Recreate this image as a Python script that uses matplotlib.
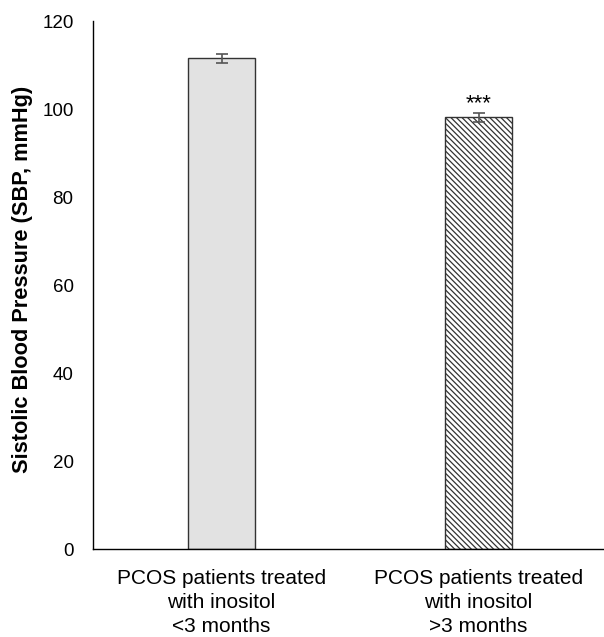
import matplotlib.pyplot as plt
import numpy as np

plt.rcParams["font.family"] = ["Liberation Sans", "DejaVu Sans"]
plt.rcParams["hatch.color"] = "#333333"
plt.rcParams["hatch.linewidth"] = 0.9

# === Data ===
groups = ["PCOS patients treated\nwith inositol\n<3 months",
          "PCOS patients treated\nwith inositol\n>3 months"]
sbp_mean = [111.5, 98.1]
sbp_err = [1.1, 1.0]
y_ticks = [0, 20, 40, 60, 80, 100, 120]
signif = ["", "***"]

# === Plot ===
fig = plt.figure(figsize=(6.04, 6.37), dpi=100)
ax = fig.add_axes([0.154, 0.138, 0.851, 0.829])

x = np.arange(len(groups))
ax.bar(x[0], sbp_mean[0], width=0.257, color="#e2e2e2", edgecolor="#333333", linewidth=1.0)
ax.bar(x[1], sbp_mean[1], width=0.257, color="white", edgecolor="#333333", linewidth=1.0,
       hatch="\\\\\\\\\\\\")
ax.errorbar(x, sbp_mean, yerr=sbp_err, fmt="none", ecolor="#555555", elinewidth=1.2,
            capsize=4, capthick=1.2)

for xi, m, e, s in zip(x, sbp_mean, sbp_err, signif):
    if s:
        ax.text(xi, m + e - 0.3, s, ha="center", va="bottom", fontsize=16)

ax.set_xlim(-0.5, 1.5)
ax.set_ylim(0, 120)
ax.set_yticks(y_ticks)
ax.set_yticklabels([str(t) for t in y_ticks], fontsize=13.5)
ax.set_xticks(x)
ax.set_xticklabels(groups, fontsize=15, linespacing=1.35)
ax.tick_params(axis="y", length=0, pad=14)
ax.tick_params(axis="x", length=0, pad=14)
ax.set_ylabel("Sistolic Blood Pressure (SBP, mmHg)", fontsize=15.7, fontweight="bold")
ax.yaxis.set_label_coords(-0.116, 0.51)

for side in ["top", "right"]:
    ax.spines[side].set_visible(False)
ax.spines["left"].set_linewidth(1.0)
ax.spines["bottom"].set_linewidth(1.0)

fig.savefig("out.png", dpi=100)
plt.close()
